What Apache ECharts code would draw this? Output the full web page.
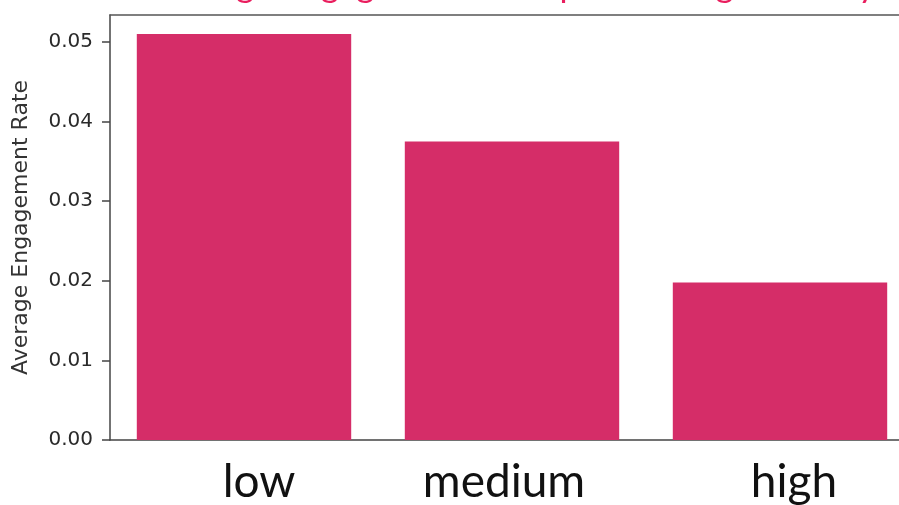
<!DOCTYPE html>
<html>
<head>
<meta charset="utf-8">
<script src="https://cdn.jsdelivr.net/npm/echarts@6/dist/echarts.min.js"></script>
<style>html,body{margin:0;padding:0;background:#fff;overflow:hidden}#c{width:915px;height:505px}</style>
</head>
<body>
<div id="c"></div>
<script>
const categories = ["low", "medium", "high"];
const engagementRate = [0.0510, 0.0375, 0.0198];
const yTicks = [0, 0.01, 0.02, 0.03, 0.04, 0.05];
const titleText = "Average Engagement Rate per Posting Intensity";
const yAxisName = "Average Engagement Rate";

const chart = echarts.init(document.getElementById('c'), null, {renderer: 'canvas'});
chart.setOption({
  animation: false,
  backgroundColor: '#ffffff',
  title: {
    text: titleText,
    left: 507, top: -37, textAlign: 'center',
    textStyle: {fontFamily: 'Lato', fontSize: 35, fontWeight: 'normal', color: '#e91e5e'}
  },
  grid: {
    left: 110, right: 1, top: 15, bottom: 65
  },
  xAxis: [{
    type: 'category',
    data: categories,
    boundaryGap: true,
    axisLine: {lineStyle: {color: '#444', width: 1.5}},
    axisTick: {alignWithLabel: true, length: 7, lineStyle: {color: '#444', width: 1.5}},
    axisLabel: {
      interval: 0, hideOverlap: false,
      margin: 19,
      fontFamily: 'Lato', fontSize: 46, color: '#111',
      formatter: function (v, i) { return '{c' + i + '|' + v + '}'; },
      rich: {
        c0: {fontFamily: 'Lato', fontSize: 46, color: '#111', padding: [0, 0, 0, 30]},
        c1: {fontFamily: 'Lato', fontSize: 46, color: '#111', padding: [0, 16, 0, 0]},
        c2: {fontFamily: 'Lato', fontSize: 46, color: '#111', padding: [0, 0, 0, 28]}
      }
    }
  }, {
    type: 'category',
    data: categories,
    position: 'top',
    axisLine: {show: true, lineStyle: {color: '#555', width: 1.5}},
    axisTick: {show: false},
    axisLabel: {show: false}
  }],
  yAxis: {
    type: 'value',
    min: 0, max: 0.0534,
    name: yAxisName,
    nameLocation: 'middle',
    nameGap: 78,
    nameTextStyle: {fontFamily: 'DejaVu Sans', fontSize: 22, color: '#333'},
    splitLine: {show: false},
    axisLine: {show: true, lineStyle: {color: '#444', width: 1.5}},
    axisTick: {show: true, length: 8, customValues: yTicks, lineStyle: {color: '#444', width: 1.5}},
    axisLabel: {
      margin: 17, customValues: yTicks,
      fontFamily: 'DejaVu Sans', fontSize: 20, color: '#2a2a2a',
      formatter: function (v) { return v.toFixed(2); }
    }
  },
  series: [{
    type: 'bar',
    data: engagementRate,
    barWidth: '80%',
    itemStyle: {color: '#d52d68'}
  }]
});
</script>
</body>
</html>
